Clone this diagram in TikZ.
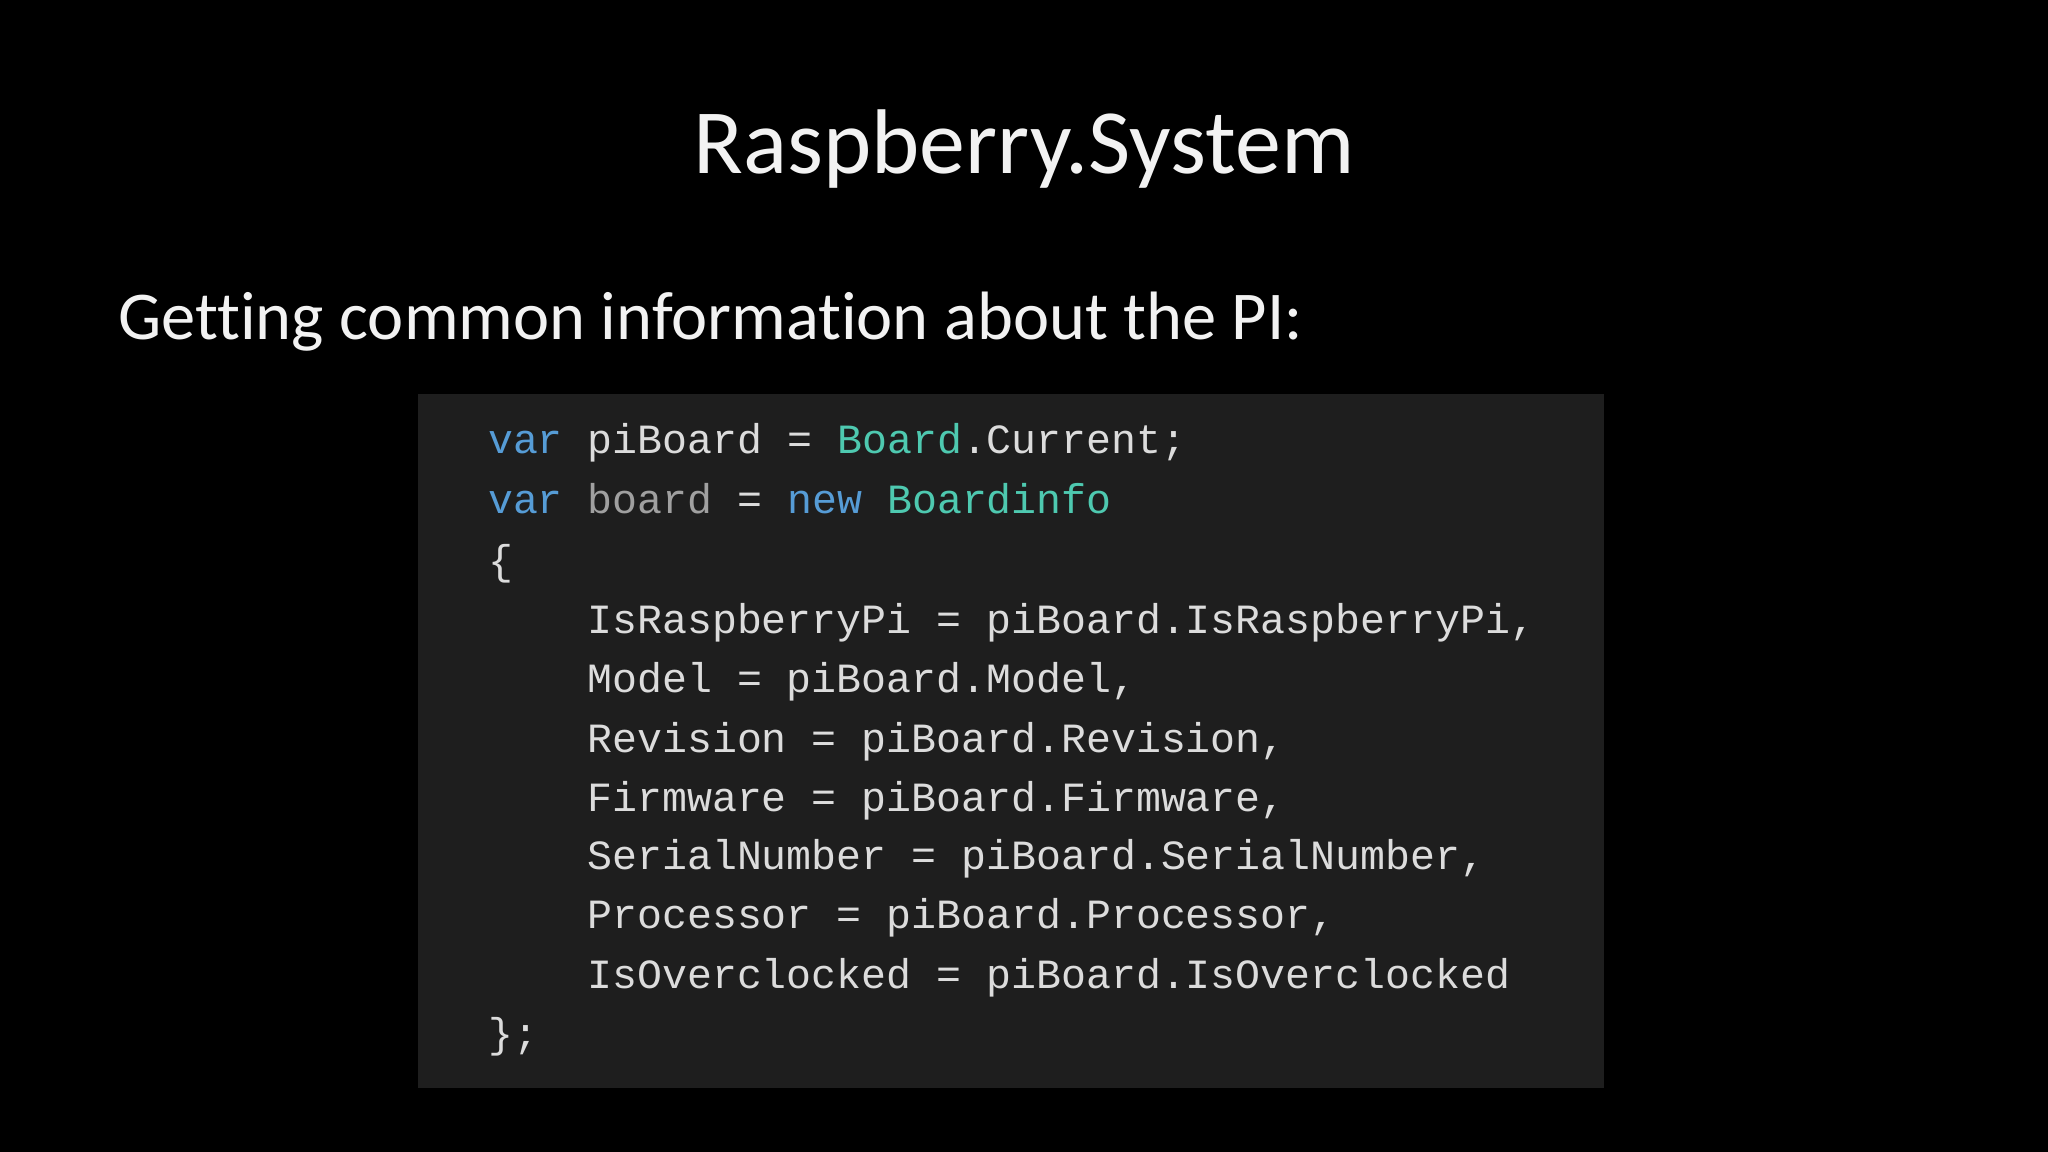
\documentclass[tikz,border=0pt]{standalone}
\usepackage{fontspec}
\setmainfont[Ligatures=NoCommon]{Carlito}
\newfontfamily\codefont{Liberation Mono}
\definecolor{kw}{HTML}{569CD6}
\definecolor{ty}{HTML}{4EC9B0}
\definecolor{tx}{HTML}{DCDCDC}
\definecolor{dim}{HTML}{A0A0A0}
\definecolor{codebg}{HTML}{1E1E1E}
\begin{document}
\begin{tikzpicture}[x=0.01cm,y=-0.01cm,
  codeline/.style={anchor=base west,inner sep=0pt,text=tx,font=\codefont\fontsize{9.05pt}{11pt}\selectfont}]
\fill[black] (0,0) rectangle (1568,882);
\useasboundingbox (0,0) rectangle (1568,882);
\fill[codebg] (320,302) rectangle (1228,833);
\node[anchor=base,inner sep=0pt,text=white!95!black,font=\fontsize{20pt}{24pt}\selectfont] (title) at (784,133) {Raspberry.System};
\node[anchor=base west,inner sep=0pt,text=white!95!black,font=\fontsize{14.9pt}{18pt}\selectfont] (sub) at (90,260) {Getting common information about the PI:};
\node[codeline] (l1) at (373,347) {\textcolor{kw}{var} piBoard = \textcolor{ty}{Board}.Current;};
\node[codeline] (l2) at (373,393) {\textcolor{kw}{var} \textcolor{dim}{board} = \textcolor{kw}{new} \textcolor{ty}{Boardinfo}};
\node[codeline] (l3) at (373,440) {\{};
\node[codeline] (l4) at (449,485) {IsRaspberryPi = piBoard.IsRaspberryPi,};
\node[codeline] (l5) at (449,530) {Model = piBoard.Model,};
\node[codeline] (l6) at (449,576) {Revision = piBoard.Revision,};
\node[codeline] (l7) at (449,621) {Firmware = piBoard.Firmware,};
\node[codeline] (l8) at (449,666) {SerialNumber = piBoard.SerialNumber,};
\node[codeline] (l9) at (449,711) {Processor = piBoard.Processor,};
\node[codeline] (l10) at (449,757) {IsOverclocked = piBoard.IsOverclocked};
\node[codeline] (l11) at (373,802) {\};};
\end{tikzpicture}
\end{document}
